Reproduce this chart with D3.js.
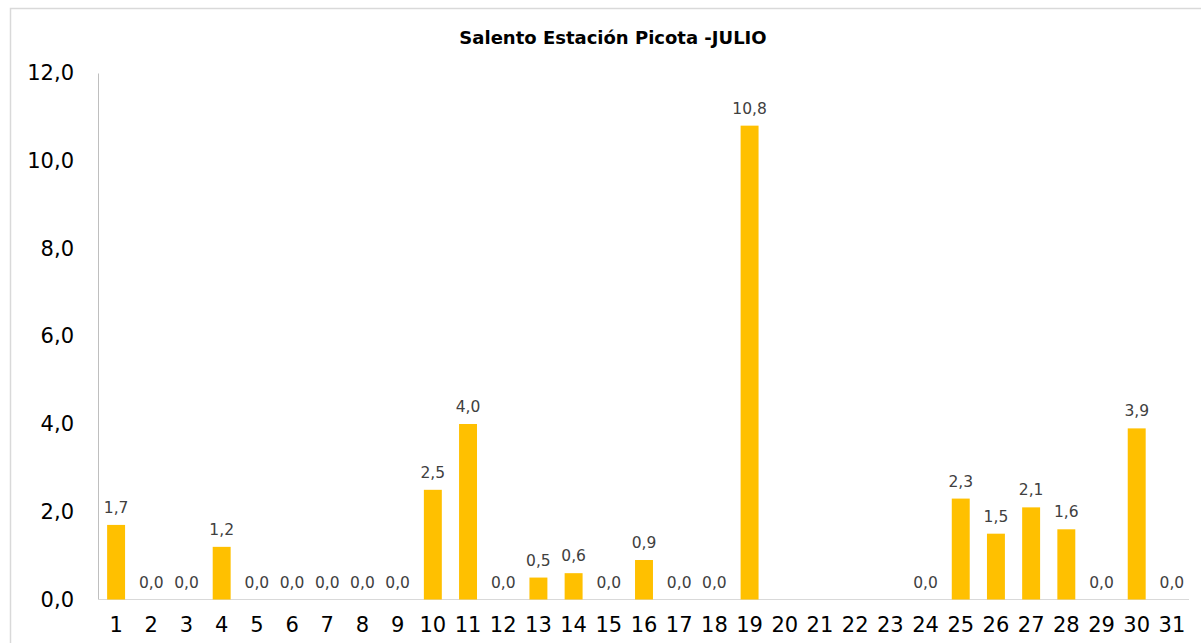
<!DOCTYPE html>
<html><head><meta charset="utf-8">
<script src="https://cdn.jsdelivr.net/npm/d3@7"></script>
<style>body{margin:0;background:#fff}svg{display:block}</style>
</head><body>
<svg id="c" width="1201" height="643"></svg>
<script>
const days = d3.range(1, 32).map(String);
const values = [1.7,0,0,1.2,0,0,0,0,0,2.5,4.0,0,0.5,0.6,0,0.9,0,0,10.8,null,null,null,null,0,2.3,1.5,2.1,1.6,0,3.9,0];
const yTicks = [0,2,4,6,8,10,12];
const title = "Salento Estación Picota -JULIO";

const svg = d3.select("#c");
const fmt = v => d3.format(".1f")(v).replace(".", ",");
const font = "'DejaVu Sans', sans-serif";

svg.append("rect").attr("x",10.5).attr("y",8.5).attr("width",1200).attr("height",640)
  .attr("fill","#fff").attr("stroke","#d9d9d9").attr("stroke-width",1.5);

const x = d3.scaleBand().domain(days).range([98.5, 1189.5]).paddingInner(0.49).paddingOuter(0.245);
const y = d3.scaleLinear().domain([0, 12]).range([599.5, 73]);

svg.append("text").attr("x", 613).attr("y", 44).attr("text-anchor","middle")
  .attr("font-family", font).attr("font-weight","bold").attr("font-size",18).attr("fill","#000").text(title);

const yAxis = svg.append("g").attr("transform","translate(98,0)")
  .call(d3.axisLeft(y).tickValues(yTicks).tickFormat(fmt).tickSize(0).tickPadding(24));
yAxis.select(".domain").attr("stroke","#bfbfbf");
yAxis.selectAll("text").attr("font-family",font).attr("font-size",21).attr("fill","#000").attr("dy","0.32em");

const xAxis = svg.append("g").attr("transform","translate(0,599.5)")
  .call(d3.axisBottom(x).tickSize(0).tickPadding(18));
xAxis.select(".domain").attr("stroke","#d9d9d9").attr("d","M98,0H1189");
xAxis.selectAll("text").attr("font-family",font).attr("font-size",21).attr("fill","#000").attr("dy","0.71em");

const data = days.map((d,i)=>({d, v: values[i]})).filter(e => e.v !== null);

svg.append("g").selectAll("rect").data(data.filter(e=>e.v>0)).join("rect")
  .attr("x", e => x(e.d)).attr("width", x.bandwidth())
  .attr("y", e => y(e.v)).attr("height", e => y(0) - y(e.v))
  .attr("fill", "#ffc000");

svg.append("g").selectAll("text").data(data).join("text")
  .attr("x", e => x(e.d) + x.bandwidth()/2).attr("y", e => y(e.v) - 12)
  .attr("text-anchor","middle").attr("font-family",font).attr("font-size",15.5).attr("fill","#404040")
  .text(e => fmt(e.v));
</script>
</body></html>
